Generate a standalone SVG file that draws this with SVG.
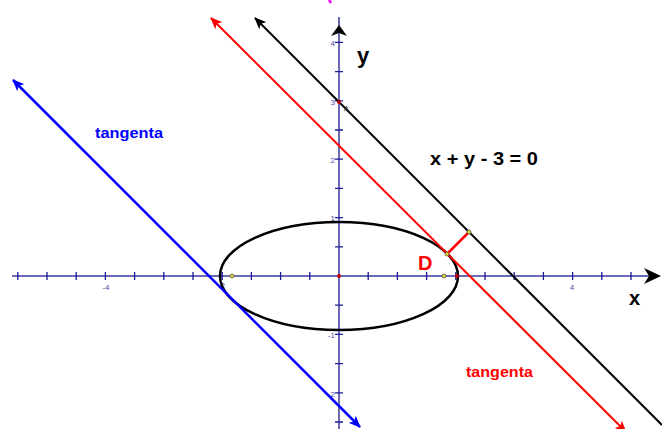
<svg xmlns="http://www.w3.org/2000/svg" width="662" height="429" viewBox="0 0 662 429">
<style>
.axis{stroke:#6a6ab6;stroke-width:2;fill:none}
.tick{stroke:#1c1c96;stroke-width:1.3}
.tl{font-family:"Liberation Sans",Arial,sans-serif;font-size:8px;fill:#4a4ab0}
.lbl{font-family:"Liberation Sans",Arial,sans-serif;font-weight:bold}
.dot{fill:#e0e020;stroke:#555;stroke-width:0.8}
</style>
<defs>
<marker id="ak" viewBox="0 0 12 10" refX="11" refY="5" markerWidth="12" markerHeight="10" markerUnits="userSpaceOnUse" orient="auto-start-reverse"><path d="M0,0 L12,5 L0,10 L3,5 Z" fill="#000"/></marker>
<marker id="ar" viewBox="0 0 12 10" refX="11" refY="5" markerWidth="12" markerHeight="10" markerUnits="userSpaceOnUse" orient="auto-start-reverse"><path d="M0,0 L12,5 L0,10 L3,5 Z" fill="#f00"/></marker>
<marker id="ab" viewBox="0 0 12 10" refX="11" refY="5" markerWidth="12" markerHeight="10" markerUnits="userSpaceOnUse" orient="auto-start-reverse"><path d="M0,0 L12,5 L0,10 L3,5 Z" fill="#00f"/></marker>
</defs>
<rect width="662" height="429" fill="#fff"/>
<path d="M329,0 L331,3" stroke="#ff00ff" stroke-width="2.5"/>
<g id="axes">
<line class="axis" x1="12" y1="276" x2="650" y2="276"/>
<path d="M661,276 L644,268 L649,276 L644,284 Z" fill="#000"/>
<line class="axis" x1="339" y1="429" x2="339" y2="17"/>
<path d="M339,25 L331,36 L339,33 L347,36 Z" fill="#000"/>
<g class="tick">
<path d="M17.8,272v8M47,272v8M76.2,272v8M105.4,272v8M134.6,272v8M163.8,272v8M193,272v8M222.2,272v8M251.4,272v8M280.6,272v8M309.8,272v8M368.2,272v8M397.4,272v8M426.6,272v8M455.8,272v8M485,272v8M514.2,272v8M543.4,272v8M572.6,272v8M601.8,272v8M631,272v8"/>
<path d="M335,42.4h8M335,71.6h8M335,100.8h8M335,130h8M335,159.2h8M335,188.4h8M335,217.6h8M335,246.8h8M335,305.2h8M335,334.4h8M335,363.6h8M335,392.8h8M335,422h8"/>
</g>
<text class="tl" x="106" y="290" text-anchor="middle">-4</text>
<text class="tl" x="225" y="288" text-anchor="end">-2</text>
<text class="tl" x="572" y="290" text-anchor="middle">4</text>
<text class="tl" x="335" y="46" text-anchor="end">4</text>
<text class="tl" x="335" y="105" text-anchor="end">3</text>
<text class="tl" x="335" y="163" text-anchor="end">2</text>
<text class="tl" x="335" y="221" text-anchor="end">1</text>
<text class="tl" x="335" y="338" text-anchor="end">-1</text>
<text class="tl" x="335" y="397" text-anchor="end">-2</text>
<text class="lbl" x="357" y="63" font-size="22">y</text>
<text class="lbl" x="629" y="305" font-size="20">x</text>
</g>
<g id="ellipse">
<ellipse cx="339" cy="276" rx="119" ry="54" fill="none" stroke="#000" stroke-width="2.5"/>
</g>
<g id="connectors">
<line x1="662" y1="425" x2="255" y2="18" stroke="#000" stroke-width="2" marker-end="url(#ak)"/>
<line x1="626" y1="432" x2="211" y2="18" stroke="#f00" stroke-width="2" marker-start="url(#ar)" marker-end="url(#ar)"/>
<line x1="360" y1="427" x2="13" y2="80" stroke="#00f" stroke-width="2.5" marker-start="url(#ab)" marker-end="url(#ab)"/>
<line x1="447" y1="254" x2="469" y2="232" stroke="#f00" stroke-width="2.5"/>
</g>
<g id="points">
<circle cx="339" cy="276" r="2" fill="#c00000"/>
<circle cx="457" cy="276" r="2" fill="#c00000"/>
<circle cx="339" cy="102" r="2" fill="#c00000"/>
<circle class="dot" cx="232" cy="276" r="2"/>
<circle class="dot" cx="444" cy="276" r="2"/>
<circle class="dot" cx="447" cy="254" r="2"/>
<circle class="dot" cx="469" cy="232" r="2"/>
<text x="344" y="111" font-family="Liberation Sans,Arial,sans-serif" font-size="7" fill="#333">A</text>
</g>
<g id="labels">
<text class="lbl" x="430" y="165" font-size="19" textLength="108" lengthAdjust="spacingAndGlyphs">x + y - 3 = 0</text>
<text class="lbl" x="95" y="138" font-size="15" fill="#00f" textLength="68" lengthAdjust="spacingAndGlyphs">tangenta</text>
<text class="lbl" x="466" y="377" font-size="15" fill="#f00" textLength="67" lengthAdjust="spacingAndGlyphs">tangenta</text>
<text class="lbl" x="418" y="270" font-size="20" fill="#f00">D</text>
</g>
</svg>
